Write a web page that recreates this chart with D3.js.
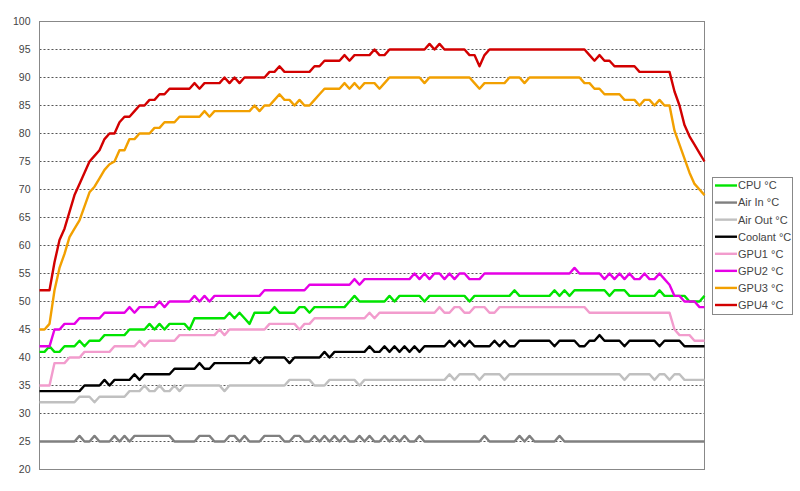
<!DOCTYPE html>
<html>
<head>
<meta charset="utf-8">
<script src="https://cdn.jsdelivr.net/npm/d3@7"></script>
<style>
  body { margin: 0; background: #fff; }
  text { font-family: "Liberation Sans", Arial, sans-serif; }
</style>
</head>
<body>
<div id="chart"></div>
<script>
// temperature readings, one value per sample
const cpu = [
    41,41,42,41,41,42,42,42,43,42, 43,43,43,44,44,44,44,44,45,45,
    45,45,46,45,46,45,46,46,46,46, 45,47,47,47,47,47,47,47,48,47,
    48,47,46,48,48,48,48,49,48,48, 48,48,49,49,48,49,49,49,49,49,
    49,49,50,51,50,50,50,50,50,50, 51,50,51,51,51,51,51,50,51,51,
    51,51,51,51,51,51,50,51,51,51, 51,51,51,51,51,52,51,51,51,51,
    51,51,51,52,51,52,51,52,52,52, 52,52,52,52,51,52,52,52,51,51,
    51,51,51,51,52,51,51,51,51,51, 50,50,50,51
];
const airIn = [
    25,25,25,25,25,25,25,25,26,25, 25,26,25,25,25,26,25,26,25,26,
    26,26,26,26,26,26,26,25,25,25, 25,25,26,26,26,25,25,25,26,26,
    25,26,25,25,25,26,26,26,26,25, 25,26,26,25,25,26,25,26,25,26,
    25,26,25,25,26,25,26,25,25,26, 25,26,25,26,25,25,26,25,25,25,
    25,25,25,25,25,25,25,25,25,26, 25,25,25,25,25,25,26,25,26,25,
    25,25,25,25,26,25,25,25,25,25, 25,25,25,25,25,25,25,25,25,25,
    25,25,25,25,25,25,25,25,25,25, 25,25,25,25
];
const airOut = [
    32,32,32,32,32,32,32,32,33,33, 33,32,33,33,33,33,33,33,34,34,
    34,35,34,34,35,34,34,35,34,35, 35,35,35,35,35,35,35,34,35,35,
    35,35,35,35,35,35,35,35,35,35, 36,36,36,36,36,35,35,35,36,36,
    36,36,36,36,35,36,36,36,36,36, 36,36,36,36,36,36,36,36,36,36,
    36,36,37,36,37,37,37,37,36,37, 37,37,37,36,37,37,37,37,37,37,
    37,37,37,37,37,37,37,37,37,37, 37,37,37,37,37,37,37,36,37,37,
    37,37,37,36,37,37,36,37,37,36, 36,36,36,36
];
const coolant = [
    34,34,34,34,34,34,34,34,34,35, 35,35,35,36,35,36,36,36,36,37,
    36,37,37,37,37,37,37,38,38,38, 38,38,39,38,38,39,39,39,39,39,
    39,39,39,40,39,40,40,40,40,40, 39,40,40,40,40,40,40,41,40,41,
    41,41,41,41,41,41,42,41,41,42, 41,42,41,42,41,42,41,42,42,42,
    42,42,43,42,43,42,43,42,42,42, 42,43,42,43,42,42,43,43,43,43,
    43,43,43,42,43,43,43,43,42,42, 43,43,44,43,43,43,43,42,43,43,
    43,43,43,43,42,43,43,43,43,42, 42,42,42,42
];
const gpu1 = [
    35,35,35,39,39,39,40,40,40,41, 41,41,41,41,41,42,42,42,42,42,
    43,42,43,43,43,43,43,43,44,44, 44,44,44,44,44,44,45,44,45,45,
    45,45,45,45,45,45,46,46,46,46, 46,46,45,46,46,47,47,47,47,47,
    47,47,47,47,47,47,48,47,48,48, 48,48,48,48,48,48,48,48,48,48,
    49,48,48,49,49,48,48,49,49,49, 48,48,49,49,49,49,49,49,49,49,
    49,49,49,49,49,49,49,49,49,49, 48,48,48,48,48,48,48,48,48,48,
    48,48,48,48,48,48,48,45,44,44, 44,43,43,43
];
const gpu2 = [
    42,42,42,45,45,46,46,46,47,47, 47,47,47,48,48,48,48,48,49,48,
    49,49,49,49,50,49,50,50,50,50, 50,51,50,51,50,51,51,51,51,51,
    51,51,51,51,51,52,52,52,52,52, 52,52,52,52,53,53,53,53,53,53,
    53,53,53,54,53,54,54,54,54,54, 54,54,54,54,54,55,54,55,54,55,
    55,54,55,54,55,55,54,54,54,55, 55,55,55,55,55,55,55,55,55,55,
    55,55,55,55,55,55,55,56,55,55, 55,55,55,54,55,54,55,54,55,54,
    54,55,54,54,55,54,53,51,51,50, 50,50,49,49
];
const gpu3 = [
    45,45,46,52,56,58.5,61.5,63,64.5,67, 69.5,70.5,72,73.5,74.5,75,77,77,79,79,
    80,80,80,81,81,82,82,82,83,83, 83,83,83,84,83,84,84,84,84,84,
    84,84,84,85,84,85,85,86,87,86, 86,85,86,85,85,86,87,88,88,88,
    88,89,88,89,88,89,89,89,88,89, 90,90,90,90,90,90,90,89,90,90,
    90,90,90,90,90,90,90,89,88,89, 89,89,89,89,90,90,90,89,90,90,
    90,90,90,90,90,90,90,90,90,89, 89,88,88,87,87,87,87,86,86,86,
    85,86,86,85,86,85,85,80.5,78,75.5, 73,71,70,69
];
const gpu4 = [
    52,52,52,57,61,63,66,69,71,73, 75,76,77,79,80,80,82,83,83,84,
    85,85,86,86,87,87,88,88,88,88, 88,89,88,89,89,89,89,90,89,90,
    89,90,90,90,90,90,91,91,92,91, 91,91,91,91,91,92,92,93,93,93,
    93,94,93,94,94,94,94,95,94,94, 95,95,95,95,95,95,95,95,96,95,
    96,95,95,95,95,95,94,94,92,94, 95,95,95,95,95,95,95,95,95,95,
    95,95,95,95,95,95,95,95,95,95, 94,93,94,93,93,92,92,92,92,92,
    91,91,91,91,91,91,91,87.5,85,81.5, 79.5,78,76.5,75
];

const seriesNames = ["CPU °C", "Air In °C", "Air Out °C", "Coolant °C", "GPU1 °C", "GPU2 °C", "GPU3 °C", "GPU4 °C"];
const seriesColors = ["#00e400", "#808080", "#c0c0c0", "#000000", "#f29ccd", "#e600e6", "#f2a000", "#d20000"];
const seriesValues = [cpu, airIn, airOut, coolant, gpu1, gpu2, gpu3, gpu4];
const yTicks = [20, 25, 30, 35, 40, 45, 50, 55, 60, 65, 70, 75, 80, 85, 90, 95, 100];

const width = 800;
const height = 491;
const plot = { left: 39.5, right: 704.5, top: 21.5, bottom: 469.5 };

const svg = d3.select("#chart")
    .append("svg")
    .attr("width", width)
    .attr("height", height);

svg.append("rect")
    .attr("width", width)
    .attr("height", height)
    .attr("fill", "white");

const x = d3.scaleLinear()
    .domain([0, cpu.length - 1])
    .range([plot.left, plot.right]);

const y = d3.scaleLinear()
    .domain([20, 100])
    .range([plot.bottom, plot.top]);

// dotted gridlines
svg.append("g")
    .selectAll("line")
    .data(yTicks.filter(v => v > 20 && v < 100))
    .enter()
    .append("line")
    .attr("x1", plot.left)
    .attr("x2", plot.right)
    .attr("y1", d => y(d))
    .attr("y2", d => y(d))
    .attr("stroke", "#555")
    .attr("stroke-width", 1)
    .attr("stroke-dasharray", "2,2");

// frame
svg.append("rect")
    .attr("x", plot.left)
    .attr("y", plot.top)
    .attr("width", plot.right - plot.left)
    .attr("height", plot.bottom - plot.top)
    .attr("fill", "none")
    .attr("stroke", "#888");

// y axis labels
const yAxis = svg.append("g")
    .attr("transform", `translate(${plot.left},0)`)
    .call(d3.axisLeft(y).tickValues(yTicks).tickSize(0).tickPadding(9));
yAxis.select(".domain").remove();
yAxis.selectAll("text")
    .attr("fill", "#444")
    .style("font-size", "10.5px")
    .style("font-family", "'Liberation Sans', Arial, sans-serif");

const line = d3.line()
    .x((d, i) => x(i))
    .y(d => y(d));

svg.append("g")
    .selectAll("path")
    .data(seriesValues)
    .enter()
    .append("path")
    .attr("d", d => line(d))
    .attr("fill", "none")
    .attr("stroke", (d, i) => seriesColors[i])
    .attr("stroke-width", 2.4)
    .attr("stroke-linejoin", "round");

// legend
const legend = svg.append("g").attr("id", "legend");
legend.append("rect")
    .attr("x", 712.5)
    .attr("y", 177.5)
    .attr("width", 80)
    .attr("height", 137)
    .attr("fill", "white")
    .attr("stroke", "#888");

const rowY = d3.scaleLinear().domain([0, seriesNames.length - 1]).range([185.5, 305]);

const items = legend.selectAll("g.item")
    .data(seriesNames)
    .enter()
    .append("g")
    .attr("class", "item")
    .attr("transform", (d, i) => `translate(0,${rowY(i)})`);

items.append("line")
    .attr("x1", 715)
    .attr("x2", 737)
    .attr("stroke", (d, i) => seriesColors[i])
    .attr("stroke-width", 2.4);

items.append("text")
    .attr("x", 738)
    .attr("dy", "0.35em")
    .attr("fill", "#444")
    .style("font-size", "11px")
    .text(d => d);
</script>
</body>
</html>
